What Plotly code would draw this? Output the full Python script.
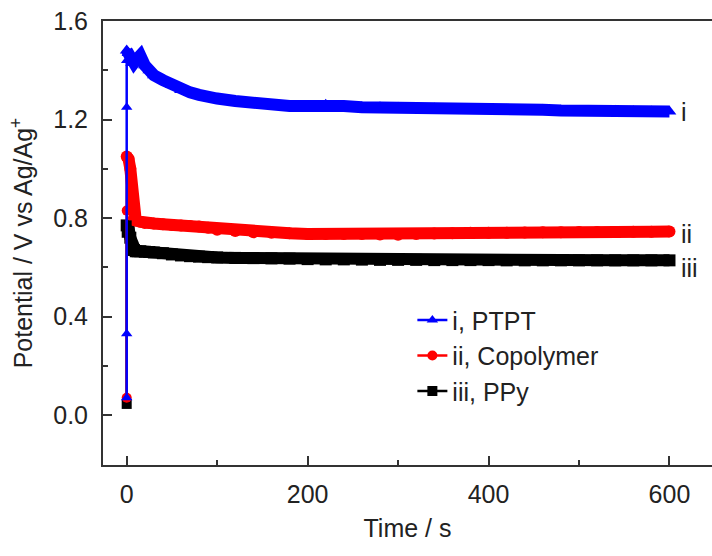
import plotly.graph_objects as go

# ---- data ----
# initial rise, all recorded at t = 0 s
rise_t_ptpt = [0, 0, 0, 0, 0]
rise_v_ptpt = [0.07, 0.33, 1.25, 1.44, 1.48]
rise_t_copo = [0, 0, 0]
rise_v_copo = [0.07, 0.83, 1.05]
rise_t_ppy = [0, 0, 0]
rise_v_ppy = [0.045, 0.74, 0.77]

# decay after the pulse
time_s = [0, 2, 4, 6, 8, 10, 15, 20, 25, 30, 40, 50, 60, 70, 80, 90, 100,
          120, 140, 160, 180, 200, 220, 240, 260, 280, 300, 320, 340, 360,
          380, 400, 420, 440, 460, 480, 500, 520, 540, 560, 580, 600]
ptpt = [1.48, 1.47, 1.45, 1.43, 1.43, 1.44, 1.46, 1.42, 1.40, 1.38, 1.36, 1.34,
        1.32, 1.31, 1.30, 1.29, 1.285, 1.275, 1.265, 1.258, 1.255, 1.255, 1.26,
        1.255, 1.25, 1.25, 1.248, 1.245, 1.245, 1.243, 1.242, 1.24, 1.24, 1.238,
        1.24, 1.237, 1.235, 1.235, 1.236, 1.234, 1.233, 1.232]
copolymer = [1.05, 1.04, 1.0, 0.86, 0.80, 0.79, 0.785, 0.78, 0.78, 0.778, 0.775,
             0.772, 0.77, 0.768, 0.765, 0.76, 0.752, 0.747, 0.742, 0.74, 0.738,
             0.735, 0.735, 0.735, 0.735, 0.733, 0.732, 0.735, 0.737, 0.738, 0.74,
             0.74, 0.74, 0.741, 0.742, 0.742, 0.743, 0.743, 0.743, 0.744, 0.744,
             0.745]
ppy = [0.77, 0.76, 0.72, 0.68, 0.67, 0.665, 0.665, 0.663, 0.662, 0.66, 0.657,
       0.652, 0.648, 0.645, 0.643, 0.641, 0.64, 0.638, 0.637, 0.636, 0.635,
       0.633, 0.632, 0.632, 0.631, 0.63, 0.63, 0.63, 0.629, 0.629, 0.629, 0.629,
       0.628, 0.628, 0.628, 0.628, 0.628, 0.628, 0.628, 0.628, 0.628, 0.628]

names = ["i, PTPT", "ii, Copolymer", "iii, PPy"]
end_labels = ["i", "ii", "iii"]
x_ticks = [0, 200, 400, 600]
y_ticks = [0.0, 0.4, 0.8, 1.2, 1.6]

BLUE, RED, BLACK = "#0000ff", "#ff0000", "#000000"
FONT = "Liberation Sans, Arial, sans-serif"

series = [
    (names[0], rise_t_ptpt, rise_v_ptpt, ptpt, BLUE, "triangle-up"),
    (names[1], rise_t_copo, rise_v_copo, copolymer, RED, "circle"),
    (names[2], rise_t_ppy, rise_v_ppy, ppy, BLACK, "square"),
]

fig = go.Figure()

# data traces: drawn PPy first, PTPT last (on top)
for name, rt, rv, tail, col, sym in reversed(series):
    fig.add_trace(go.Scatter(
        x=time_s, y=tail, mode="lines+markers", showlegend=False,
        line=dict(color=col, width=12),
        marker=dict(symbol=sym, size=12, color=col)))
for name, rt, rv, tail, col, sym in reversed(series):
    fig.add_trace(go.Scatter(
        x=rt, y=rv, mode="lines+markers", showlegend=False,
        line=dict(color=col, width=2.5),
        marker=dict(symbol=sym, size=10, color=col)))

# legend entries
for name, rt, rv, tail, col, sym in series:
    fig.add_trace(go.Scatter(
        x=[None], y=[None], mode="lines+markers", name=name,
        line=dict(color=col, width=2.5),
        marker=dict(symbol=sym, size=10, color=col)))

# end labels
offsets = [0, -2, -8]
for lab, (name, rt, rv, tail, col, sym), off in zip(end_labels, series, offsets):
    fig.add_annotation(x=time_s[-1], y=tail[-1], text=lab, showarrow=False,
                       xanchor="left", xshift=10, yshift=off,
                       font=dict(family=FONT, size=25, color="#222"))

axis_common = dict(
    showline=True, linecolor="#333", linewidth=2, ticks="inside",
    ticklen=9, tickwidth=1.5, tickcolor="#333", showgrid=False, zeroline=False,
    automargin=False,
    tickfont=dict(family=FONT, size=25, color="#222"),
    minor=dict(ticks="inside", ticklen=5, tickwidth=1.5, tickcolor="#333"),
)

fig.update_xaxes(range=[-26.2, 647], tickvals=x_ticks,
                 ticktext=[str(v) for v in x_ticks], mirror=True,
                 ticklabelstandoff=6,
                 minor_dtick=100, minor_tick0=0,
                 title=dict(text="Time / s", standoff=12,
                            font=dict(family=FONT, size=25, color="#222")),
                 **axis_common)
fig.update_yaxes(range=[-0.203, 1.6], tickvals=y_ticks,
                 ticktext=[f"{v:.1f}" for v in y_ticks], mirror=False,
                 ticklabelstandoff=8,
                 minor_dtick=0.2, minor_tick0=0,
                 title=dict(text="Potential / V vs Ag/Ag<sup>+</sup>", standoff=13,
                            font=dict(family=FONT, size=25, color="#222")),
                 **axis_common)

fig.update_layout(
    width=712, height=556,
    margin=dict(l=103, r=0, t=21, b=91),
    paper_bgcolor="white", plot_bgcolor="white",
    legend=dict(x=0.508, y=0.378, xanchor="left", yanchor="top",
                bgcolor="rgba(0,0,0,0)",
                font=dict(family=FONT, size=25, color="#222"),
                tracegroupgap=0),
)

fig.write_html("out.html", config={"displayModeBar": False},
               post_script="document.body.style.margin='0';")
